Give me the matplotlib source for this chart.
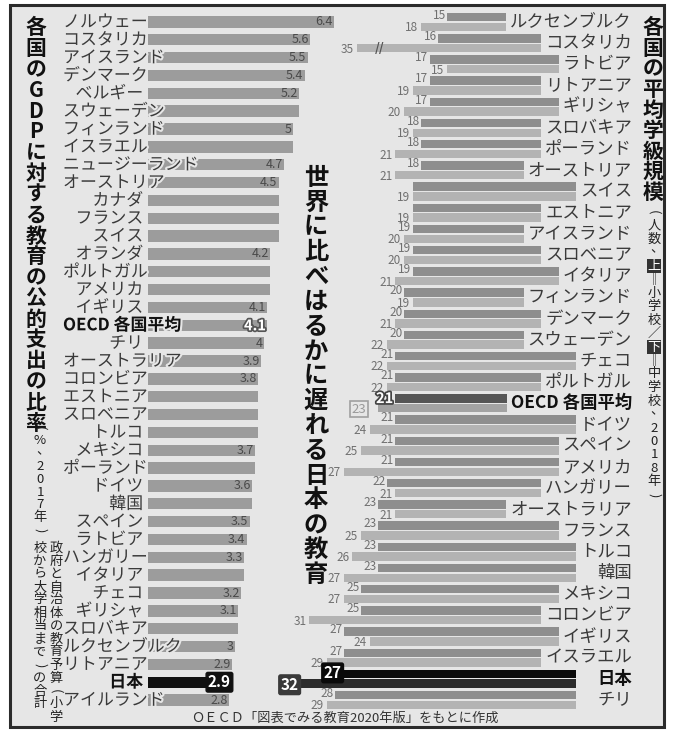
import numpy as np
import matplotlib
matplotlib.use("Agg")
import matplotlib.pyplot as plt
import matplotlib.transforms as mtransforms
import matplotlib.patheffects as pe
from matplotlib.patches import Rectangle

plt.rcParams['font.family'] = ['Noto Sans CJK JP', 'DejaVu Sans']

W, H = 676, 731
PAPER = '#e6e6e6'

# left: public spending on education as % of GDP (2017)
gdp_countries = ["ノルウェー", "コスタリカ", "アイスランド", "デンマーク", "ベルギー",
                 "スウェーデン", "フィンランド", "イスラエル", "ニュージーランド", "オーストリア",
                 "カナダ", "フランス", "スイス", "オランダ", "ポルトガル", "アメリカ", "イギリス",
                 "OECD 各国平均", "チリ", "オーストラリア", "コロンビア", "エストニア", "スロベニア",
                 "トルコ", "メキシコ", "ポーランド", "ドイツ", "韓国", "スペイン", "ラトビア",
                 "ハンガリー", "イタリア", "チェコ", "ギリシャ", "スロバキア", "ルクセンブルク",
                 "リトアニア", "日本", "アイルランド"]
gdp_values = [6.4, 5.6, 5.5, 5.4, 5.2, 5.2, 5.0, 5.0, 4.7, 4.5, 4.5, 4.5, 4.5, 4.2, 4.2, 4.2, 4.1,
              4.1, 4.0, 3.9, 3.8, 3.8, 3.8, 3.8, 3.7, 3.7, 3.6, 3.6, 3.5, 3.4, 3.3, 3.3, 3.2, 3.1,
              3.1, 3.0, 2.9, 2.9, 2.8]

# right: average class size (upper = primary, lower = lower secondary, 2018)
class_countries = ["ルクセンブルク", "コスタリカ", "ラトビア", "リトアニア", "ギリシャ", "スロバキア",
                   "ポーランド", "オーストリア", "スイス", "エストニア", "アイスランド", "スロベニア",
                   "イタリア", "フィンランド", "デンマーク", "スウェーデン", "チェコ", "ポルトガル",
                   "OECD 各国平均", "ドイツ", "スペイン", "アメリカ", "ハンガリー", "オーストラリア",
                   "フランス", "トルコ", "韓国", "メキシコ", "コロンビア", "イギリス", "イスラエル",
                   "日本", "チリ"]
primary = [15, 16, 17, 17, 17, 18, 18, 18, 19, 19, 19, 19, 19, 20, 20, 20, 21, 21, 21, 21, 21, 21,
           22, 23, 23, 23, 23, 25, 25, 27, 27, 27, 28]
lower_sec = [18, 35, 15, 19, 20, 19, 21, 21, 19, 19, 20, 20, 21, 19, 21, 22, 22, 22, 23, 24, 25, 27,
             21, 21, 25, 26, 27, 27, 31, 24, 29, 32, 29]

CAP = 33          # bars above this are drawn broken
BROKEN_LEN = 25.5

fig = plt.figure(figsize=(W / 100, H / 100), dpi=100)
fig.patch.set_facecolor('white')
fig.add_artist(Rectangle((10 / W, 1 - 727 / H), 654 / W, 722 / H, transform=fig.transFigure,
                         facecolor=PAPER, edgecolor='#2b2b2b', lw=2.2, zorder=-1))


def px_axes(x0, x1, y0, y1):
    return fig.add_axes([x0 / W, 1 - y1 / H, (x1 - x0) / W, (y1 - y0) / H])


halo = [pe.withStroke(linewidth=3, foreground=PAPER)]

# ---------- left panel ----------
ax_l = px_axes(148, 148 + 7.5 * 29, 13, 709)
ax_l.set_xlim(0, 7.5)
ax_l.set_ylim(len(gdp_countries) - 0.5, -0.5)
ax_l.axis('off')
y_l = np.arange(len(gdp_countries))
bar_cols = ['#111111' if c == '日本' else '#9c9c9c' for c in gdp_countries]
ax_l.barh(y_l, gdp_values, height=0.64, color=bar_cols, zorder=1)

tr_l = mtransforms.blended_transform_factory(fig.transFigure, ax_l.transData)
left_texts = []
for i, c in enumerate(gdp_countries):
    special = c in ("日本", "OECD 各国平均")
    t = fig.text(143 / W, i, c, transform=tr_l, ha='right', va='center', fontsize=12.2,
                 color='#111' if special else '#3a3a3a', fontweight='bold' if special else 'normal',
                 path_effects=halo, zorder=3)
    left_texts.append(t)

prev = None
for i, (c, v) in enumerate(zip(gdp_countries, gdp_values)):
    lab = ('%.1f' % v).rstrip('0').rstrip('.')
    if c == "日本":
        ax_l.text(v - 0.04, i, lab, ha='right', va='center', fontsize=11, color='white',
                  fontweight='bold', zorder=4,
                  bbox=dict(boxstyle='round,pad=0.12', fc='#111', ec='#111'))
    elif c == "OECD 各国平均":
        ax_l.text(v - 0.04, i, lab, ha='right', va='center', fontsize=10.5, color='white',
                  fontweight='bold', zorder=4,
                  path_effects=[pe.withStroke(linewidth=2.5, foreground='#555')])
    elif v != prev:
        ax_l.text(v - 0.04, i, lab, ha='right', va='center', fontsize=9, color='#4a4a4a', zorder=4)
    prev = v

# ---------- right panel ----------
ax_r = px_axes(576 - 36 * 8.6, 576, 11.4, 710.6)
ax_r.set_xlim(36, 0)
ax_r.set_ylim(len(class_countries) - 0.5, -0.5)
ax_r.axis('off')
tr_r = mtransforms.blended_transform_factory(fig.transFigure, ax_r.transData)

right_texts = []
for i, c in enumerate(class_countries):
    special = c in ("日本", "OECD 各国平均")
    t = fig.text(632 / W, i, c, transform=tr_r, ha='right', va='center', fontsize=12.5,
                 color='#111' if special else '#3a3a3a', fontweight='bold' if special else 'normal',
                 zorder=3)
    right_texts.append(t)

renderer = fig.canvas.get_renderer()
for t in left_texts:
    if t.get_window_extent(renderer).x0 < 62:
        t.set_ha('left')
        t.set_x(63 / W)

inv = ax_r.transData.inverted()
ends = [inv.transform((t.get_window_extent(renderer).x0 - 4, 0))[0] for t in right_texts]

up_y = np.arange(len(class_countries)) - 0.23
lo_y = np.arange(len(class_countries)) + 0.23
for i, c in enumerate(class_countries):
    if c == "日本":
        cu, cl = '#0a0a0a', '#2c2c2c'
    elif c == "OECD 各国平均":
        cu, cl = '#555555', '#a3a3a3'
    else:
        cu, cl = '#8e8e8e', '#b3b3b3'
    p = primary[i]
    s = lower_sec[i]
    s_draw = BROKEN_LEN if s > CAP else s
    ax_r.barh(up_y[i], p - ends[i], left=ends[i], height=0.4, color=cu, zorder=1)
    ax_r.barh(lo_y[i], s_draw - ends[i], left=ends[i], height=0.4, color=cl, zorder=1)
    if s > CAP:
        ax_r.text(BROKEN_LEN - 2.7, lo_y[i], '//', ha='center', va='center', fontsize=9,
                  color='#555', zorder=4, fontweight='bold')

    if c == "日本":
        ax_r.text(p + 0.25, up_y[i] - 0.05, str(p), ha='right', va='center', fontsize=11,
                  color='white', fontweight='bold', zorder=5,
                  bbox=dict(boxstyle='round,pad=0.12', fc='#0a0a0a', ec='#0a0a0a'))
        ax_r.text(s_draw + 0.25, lo_y[i] + 0.05, str(s), ha='right', va='center', fontsize=11,
                  color='white', fontweight='bold', zorder=5,
                  bbox=dict(boxstyle='round,pad=0.12', fc='#3a3a3a', ec='#3a3a3a'))
        continue
    if c == "OECD 各国平均":
        ax_r.text(p + 0.25, up_y[i] - 0.02, str(p), ha='right', va='center', fontsize=10.5,
                  color='white', fontweight='bold', zorder=5,
                  path_effects=[pe.withStroke(linewidth=2.5, foreground='#444')])
        ax_r.text(s_draw + 1.4, lo_y[i] + 0.05, str(s), ha='right', va='center', fontsize=9.5,
                  color='#9a9a9a', zorder=5,
                  bbox=dict(boxstyle='square,pad=0.12', fc=PAPER, ec='#a0a0a0', lw=1.2))
        continue
    ax_r.text(s_draw + 0.35, lo_y[i] + 0.05, str(s), ha='right', va='center', fontsize=8.5,
              color='#707070', zorder=4)
    if p != s:
        ax_r.text(p + 0.15, up_y[i] - 0.08, str(p), ha='right', va='center', fontsize=8.5,
                  color='#707070', zorder=4)


# ---------- vertical titles ----------
def vtext(x, y0, s, size, step, boxed=(), **kw):
    for k, ch in enumerate(s):
        extra = {}
        xx, yy = x, y0 + k * step
        if ch in "()":
            extra['rotation'] = -90
        if ch == "＝":
            ch = "‖"
        if ch == "、":
            xx, yy = x + size * 0.35, yy - size * 0.35
        if k in boxed:
            extra.update(color='white',
                         bbox=dict(boxstyle='square,pad=0.05', fc='#333', ec='none'))
        fig.text(xx / W, 1 - yy / H, ch, fontsize=size, ha='center', va='center',
                 **{**kw, **extra})


vtext(36, 28, "各国のGDPに対する教育の公的支出の比率", 15, 20.8, fontweight='bold', color='#111')
vtext(40, 428, "(%、2017年)", 9.5, 12.8, color='#222')
vtext(56, 548, "政府と自治体の教育予算(小学", 9.5, 13, color='#222')
vtext(40, 548, "校から大学相当まで)の合計", 9.5, 13, color='#222')

vtext(316, 178, "世界に比べはるかに遅れる日本の教育", 17.5, 24.8, fontweight='bold', color='#111')

vtext(653, 28, "各国の平均学級規模", 15, 20.5, fontweight='bold', color='#111')
sub = "(人数、上＝小学校／下＝中学校、2018年)"
vtext(654, 212, sub, 9.5, 13.5, boxed=(4, 10), color='#222')

fig.text(345 / W, 1 - 718 / H, "ＯＥＣＤ「図表でみる教育2020年版」をもとに作成", fontsize=9.5,
         ha='center', va='center', color='#333')

fig.savefig("out.png", dpi=100, facecolor=fig.get_facecolor())
